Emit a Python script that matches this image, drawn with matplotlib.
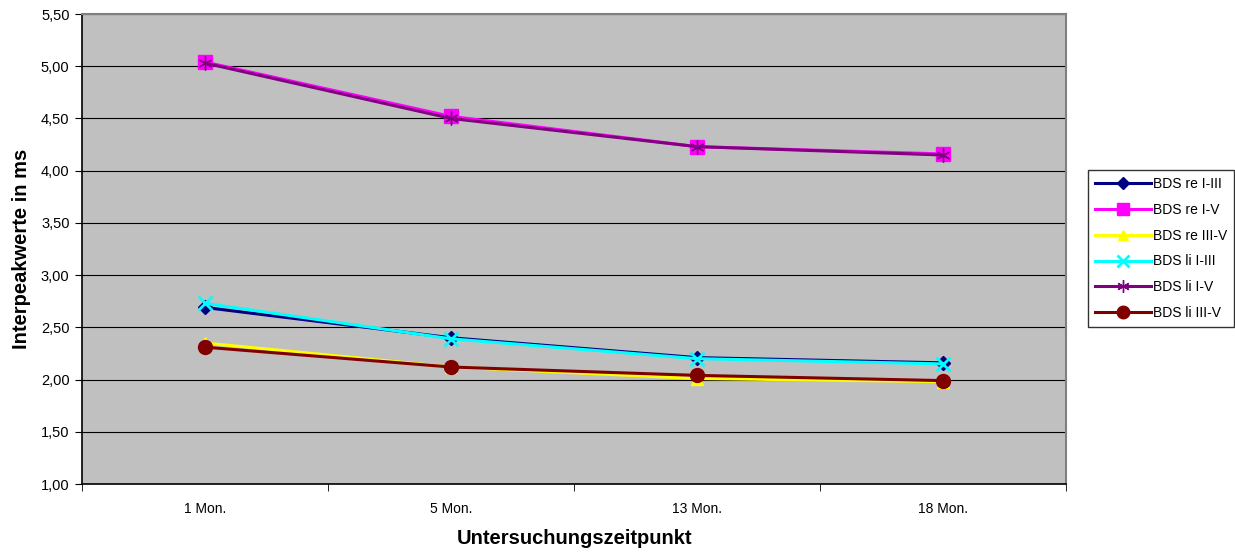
import numpy as np
import matplotlib
matplotlib.use("Agg")
import matplotlib.pyplot as plt
from matplotlib.ticker import FuncFormatter, MultipleLocator

plt.rcParams["font.family"] = ["Liberation Sans", "DejaVu Sans"]

# Daten
zeitpunkte = ["1 Mon.", "5 Mon.", "13 Mon.", "18 Mon."]
re_i_iii = [2.69, 2.40, 2.21, 2.16]
re_i_v = [5.04, 4.52, 4.23, 4.16]
re_iii_v = [2.35, 2.12, 2.01, 1.98]
li_i_iii = [2.73, 2.39, 2.20, 2.15]
li_i_v = [5.03, 4.50, 4.23, 4.15]
li_iii_v = [2.31, 2.12, 2.04, 1.99]

serien = [
    ("BDS re I-III", re_i_iii, "#000080", "D", 7),
    ("BDS re I-V", re_i_v, "#FF00FF", "s", 10),
    ("BDS re III-V", re_iii_v, "#FFFF00", "^", 8),
    ("BDS li I-III", li_i_iii, "#00FFFF", "x", 10),
    ("BDS li I-V", li_i_v, "#800080", (6, 2, 0), 10),
    ("BDS li III-V", li_iii_v, "#800000", "o", 10),
]

fig = plt.figure(figsize=(12.35, 5.52), dpi=100)
ax = fig.add_axes([82 / 1235, 1 - 484 / 552, (1066 - 82) / 1235, (484 - 14) / 552])
ax.set_facecolor("#C0C0C0")

x = np.arange(len(zeitpunkte))
for name, werte, farbe, marker, ms in serien:
    ax.plot(x, werte, color=farbe, linewidth=2.2, marker=marker, markersize=ms,
            markeredgewidth=2 if marker == "x" else 1, markeredgecolor=farbe,
            markerfacecolor=farbe, label=name)

ax.set_xlim(-0.5, len(zeitpunkte) - 0.5)
ax.set_ylim(1.0, 5.5)
ax.yaxis.set_major_locator(MultipleLocator(0.5))
ax.yaxis.set_major_formatter(FuncFormatter(lambda v, p: f"{v:.2f}".replace(".", ",")))
ax.grid(axis="y", color="black", linewidth=0.8)
ax.set_axisbelow(True)

ax.set_xticks(x)
ax.set_xticklabels(zeitpunkte)
ax.set_xticks(np.arange(len(zeitpunkte) + 1) - 0.5, minor=True)
ax.tick_params(axis="x", which="major", length=0, pad=13, labelsize=10)
ax.tick_params(axis="x", which="minor", length=5, direction="out")
ax.tick_params(axis="y", length=5, direction="out", labelsize=10.5, pad=4)

for s in ("top", "right"):
    ax.spines[s].set_color("#808080")
    ax.spines[s].set_linewidth(1.5)
for s in ("left", "bottom"):
    ax.spines[s].set_color("black")
    ax.spines[s].set_linewidth(1.2)

ax.set_xlabel("Untersuchungszeitpunkt", fontsize=14.5, fontweight="bold", labelpad=9)
ax.set_ylabel("Interpeakwerte in ms", fontsize=14.5, fontweight="bold", labelpad=7)

leg = fig.legend(loc="upper left", bbox_to_anchor=(1088 / 1235, 1 - 170 / 552),
                 frameon=True, fancybox=False, edgecolor="black", fontsize=10,
                 handlelength=4.0, markerscale=0.9, borderpad=0.5,
                 labelspacing=0.85, handletextpad=0.2, borderaxespad=0)
leg.get_frame().set_linewidth(1)

fig.savefig("out.png", dpi=100, facecolor="white")
